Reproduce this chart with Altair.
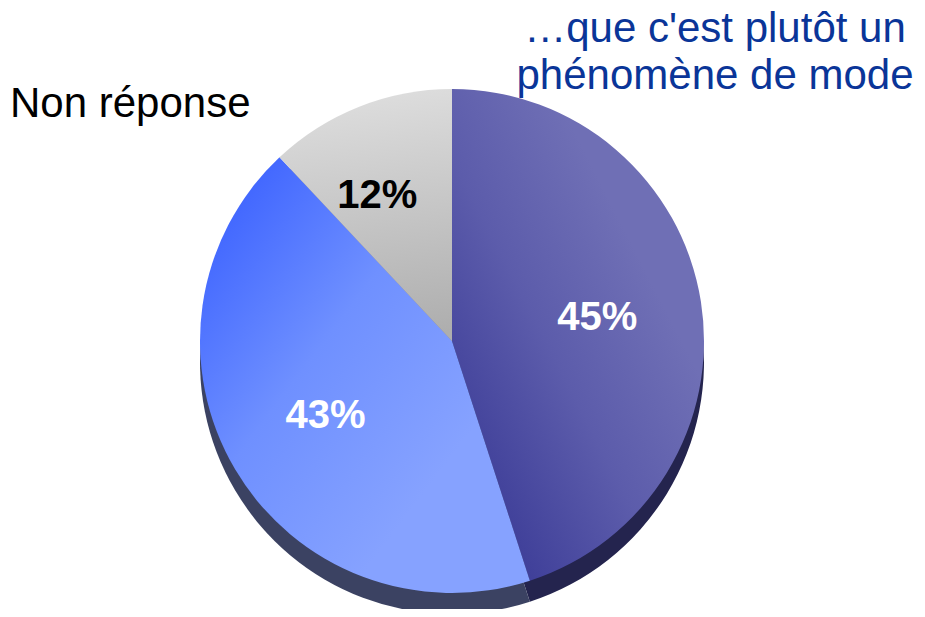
import altair as alt
import pandas as pd

# ---- data ----
categories = ["…que c'est plutôt un phénomène de mode", "Autre avis", "Non réponse"]
shares = [45, 43, 12]
pct_labels = ["45%", "43%", "12%"]
slice_order = [0, 1, 2]

blue_label_lines = ["…que c'est plutôt un", "phénomène de mode"]
black_label = ["Non réponse"]

df = pd.DataFrame({"category": categories, "share": shares,
                   "label": pct_labels, "order": slice_order})

# ---- style ----
CX, CY = 444, 333
R = 252
DEPTH = 21
FONT = "Liberation Sans"
BLUE = "#0a3598"

shadow_colors = ["#24244e", "#3b4262", "#8a8a8a"]
gradients = [
    {"gradient": "linear", "x1": 0.15, "y1": 0.95, "x2": 0.75, "y2": 0.35,
     "stops": [{"offset": 0, "color": "#3a3a96"}, {"offset": 0.55, "color": "#5c5cab"},
               {"offset": 1, "color": "#6f6fb5"}]},
    {"gradient": "linear", "x1": 0.05, "y1": 0.1, "x2": 0.7, "y2": 0.75,
     "stops": [{"offset": 0, "color": "#3d63ff"}, {"offset": 0.5, "color": "#6f90ff"},
               {"offset": 1, "color": "#86a2ff"}]},
    {"gradient": "linear", "x1": 0.5, "y1": 0, "x2": 0.6, "y2": 1,
     "stops": [{"offset": 0, "color": "#dedede"}, {"offset": 1, "color": "#aeaeae"}]},
]

theta_scale = alt.Scale(domain=[0, 100])

base = alt.Chart(df).transform_window(
    cum="sum(share)", sort=[alt.SortField("order")], frame=[None, 0]
).transform_calculate(
    start="datum.cum - datum.share",
    mid="datum.cum - datum.share / 2",
)

shadow = base.mark_arc(radius=R).encode(
    theta=alt.Theta("start:Q", scale=theta_scale, stack=None),
    theta2="cum:Q",
    fill=alt.Fill("category:N", scale=alt.Scale(domain=categories, range=shadow_colors),
                  legend=None),
    x=alt.value(CX),
    y=alt.value(CY + DEPTH),
)

tops = []
for i in range(len(categories)):
    tops.append(
        base.transform_filter(alt.datum.order == i).mark_arc(
            radius=R, fill=gradients[i]
        ).encode(
            theta=alt.Theta("start:Q", scale=theta_scale, stack=None),
            theta2="cum:Q",
            x=alt.value(CX),
            y=alt.value(CY),
        )
    )

pct_big = base.transform_filter(alt.datum.share >= 20).mark_text(
    font=FONT, fontSize=40, fontWeight="bold", align="center", baseline="middle",
    radius=147, fill="#ffffff"
).encode(
    theta=alt.Theta("mid:Q", scale=theta_scale, stack=None),
    text="label:N",
    x=alt.value(CX),
    y=alt.value(CY),
)

pct_small = base.transform_filter(alt.datum.share < 20).mark_text(
    font=FONT, fontSize=40, fontWeight="bold", align="center", baseline="middle",
    radius=165, fill="#000000", dx=-14, dy=8
).encode(
    theta=alt.Theta("mid:Q", scale=theta_scale, stack=None),
    text="label:N",
    x=alt.value(CX),
    y=alt.value(CY),
)

blue_line1 = alt.Chart(pd.DataFrame({"t": blue_label_lines[:1]})).mark_text(
    font=FONT, fontSize=42, align="center", baseline="alphabetic", color=BLUE
).encode(text="t:N", x=alt.value(707), y=alt.value(34))

blue_line2 = alt.Chart(pd.DataFrame({"t": blue_label_lines[1:]})).mark_text(
    font=FONT, fontSize=42, align="center", baseline="alphabetic", color=BLUE
).encode(text="t:N", x=alt.value(707), y=alt.value(81))

black_txt = alt.Chart(pd.DataFrame({"t": black_label})).mark_text(
    font=FONT, fontSize=42, align="left", baseline="alphabetic", color="#000000"
).encode(text="t:N", x=alt.value(2), y=alt.value(109))

chart = alt.layer(shadow, *tops, pct_big, pct_small, blue_line1, blue_line2, black_txt).properties(
    width=909, height=601, padding=0, autosize=alt.AutoSizeParams(type="none"),
    background="white"
).configure_view(stroke=None)

chart.save("out.html", embed_options={"renderer": "svg", "actions": False})
